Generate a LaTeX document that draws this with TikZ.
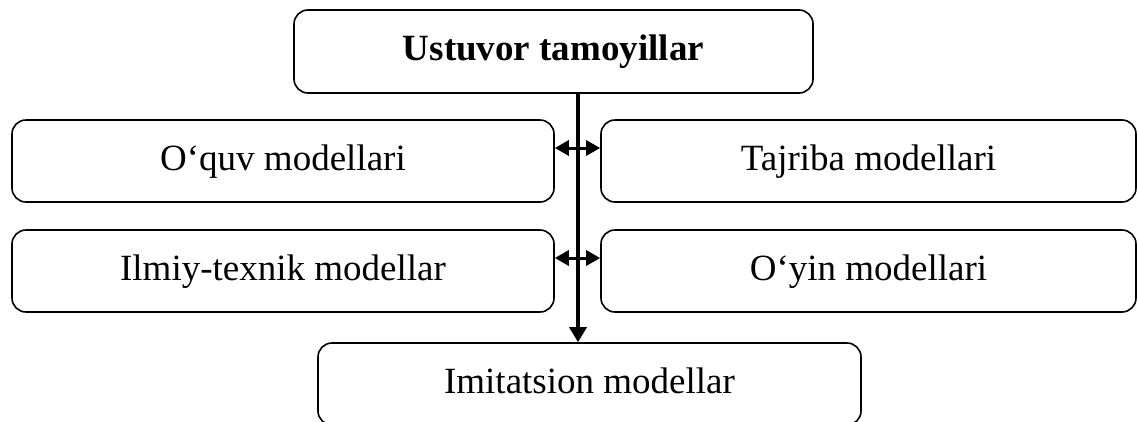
\documentclass[tikz,border=0pt]{standalone}
\usepackage{fontspec}
\setmainfont{Liberation Serif}
\usetikzlibrary{arrows.meta}
\begin{document}
\begin{tikzpicture}[x=1pt,y=-1pt,
  box/.style={draw, line width=1.6pt, rounded corners=14pt, inner sep=0pt,
    text height=25pt, text depth=7pt, align=center,
    font=\fontsize{37}{44}\selectfont},
  spinearrow/.style={line width=3.5pt, -{Triangle[length=15pt,width=17pt]}},
  sidearrow/.style={line width=3pt, {Triangle[length=14pt,width=15pt]}-{Triangle[length=14pt,width=15pt]}}
]
\useasboundingbox (0,0) rectangle (1138,421);
\node[box, minimum width=519pt, minimum height=83pt, font=\fontsize{37}{44}\selectfont\bfseries] (top) at (553.5,51.5) {Ustuvor tamoyillar};
\node[box, minimum width=542pt, minimum height=82pt] (l1) at (283,161) {O‘quv modellari};
\node[box, minimum width=535pt, minimum height=82pt] (r1) at (868.5,161) {Tajriba modellari};
\node[box, minimum width=542pt, minimum height=82pt] (l2) at (283,271) {Ilmiy-texnik modellar};
\node[box, minimum width=535pt, minimum height=82pt] (r2) at (868.5,271) {O‘yin modellari};
\node[box, minimum width=543pt, minimum height=82pt] (bot) at (589.5,384) {Imitatsion modellar};
\coordinate (spine) at (578,0);
\draw[spinearrow] (spine |- top.south) -- (spine |- bot.north);
\draw[sidearrow] ([yshift=13pt]l1.east) -- ([yshift=13pt]r1.west);
\draw[sidearrow] ([yshift=13pt]l2.east) -- ([yshift=13pt]r2.west);
\end{tikzpicture}
\end{document}
